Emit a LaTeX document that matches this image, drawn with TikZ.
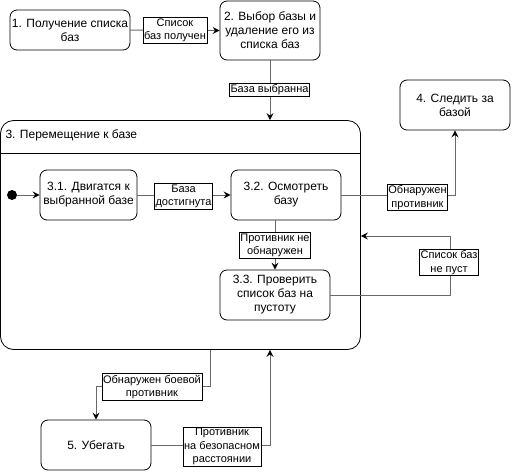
\documentclass[tikz,border=0pt]{standalone}
\usepackage{fontspec}
\setmainfont{Liberation Sans}
\usetikzlibrary{arrows.meta}
\definecolor{wire}{RGB}{105,105,105}
\begin{document}
\begin{tikzpicture}[x=1pt,y=-1pt,
  every node/.style={font=\fontsize{11}{13.5}\selectfont},
  state/.style={draw=black,line width=0.8pt,rounded corners=7pt,fill=white,
    minimum width=#1,align=center,inner sep=1pt,font=\fontsize{12}{14}\selectfont},
  state/.default=110pt,
  tag/.style={draw=black,line width=0.7pt,fill=white,align=center,inner sep=1.2pt},
  wire/.style={draw=wire,line width=1pt,-{Stealth[length=7pt,width=7pt,inset=2.5pt,color=black]}},
  plain/.style={draw=wire,line width=1pt}]
\useasboundingbox (0,0) rectangle (512,472);

% composite state 3 with its header
\node[draw=black,line width=0.8pt,rounded corners=13pt,minimum width=360pt,minimum height=229pt,inner sep=0pt]
  (cont) at (180.5,235) {};
\draw[black,line width=0.8pt] (cont.west |- 0,153) -- (cont.east |- 0,153);
\node[anchor=west,font=\fontsize{12}{14}\selectfont] (ctitle) at (2,135) {3. Перемещение к базе};

% top-level states
\node[state=120pt,minimum height=40pt] (n1) at (70,30) {1. Получение списка\\баз};
\node[state=100pt,minimum height=59pt] (n2) at (270,30.5) {2. Выбор базы и\\удаление его из\\списка баз};
\node[state=110pt,minimum height=50pt] (n4) at (455,105) {4. Следить за\\базой};
\node[state=110pt,minimum height=50pt] (n5) at (96,445) {5. Убегать};

% inner states
\node[fill=black,circle,inner sep=0pt,minimum size=10pt] (init) at (12,195) {};
\node[state=97pt,minimum height=50pt] (n31) at (88.5,195) {3.1. Двигатся к\\выбранной базе};
\node[state=110pt,minimum height=50pt] (n32) at (286,195) {3.2. Осмотреть\\базу};
\node[state=110pt,minimum height=50pt] (n33) at (275,295) {3.3. Проверить\\список баз на\\пустоту};

% transitions
\draw[wire] (n1.east) -- (n2.west);
\node[tag] (t12) at (175,30.5) {Список\\баз получен};

\draw[wire] (n2.south) -- (n2.south |- cont.north);
\node[tag] (t23) at (269.5,90) {База выбранна};

\draw[wire] (init) -- (n31.west);

\draw[wire] (n31.east) -- (n32.west);
\node[tag] (t3132) at (183.5,196.5) {База\\достигнута};

\draw[wire] (n32.east) -| (n4.south);
\node[tag] (t324) at (417.5,197.5) {Обнаружен\\противник};

\draw[wire] (n33.north |- n32.south) -- (n33.north);
\node[tag] (t3233) at (275,245.5) {Противник не\\обнаружен};

\coordinate (back) at (450,236);
\draw[wire] (n33.east) -| (back) -- (back -| cont.east);
\node[tag] (t33c) at (449,262.5) {Список баз\\не пуст};

\coordinate (esc) at (210,386.5);
\draw[wire] (esc |- cont.south) -- (esc) -| (n5.north);
\node[tag] (tc5) at (152,387) {Обнаружен боевой\\противник};

\coordinate (ret) at (270,445);
\draw[wire] (n5.east) -- (ret) -- (ret |- cont.south);
\node[tag] (t5c) at (222,446.5) {Противник\\на безопасном\\расстоянии};
\end{tikzpicture}
\end{document}
